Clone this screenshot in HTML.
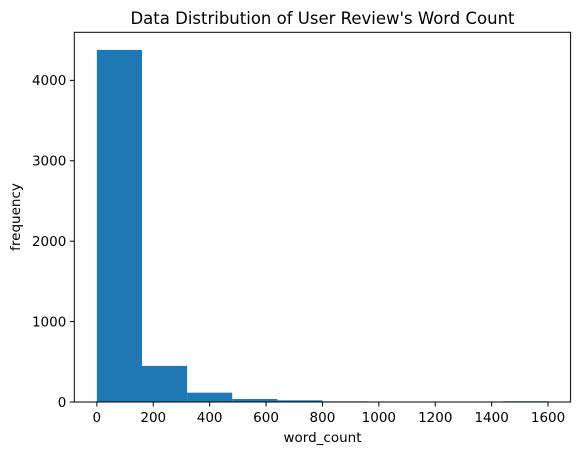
<!DOCTYPE html>
<html><head><meta charset="utf-8"><style>
body{margin:0;background:#fff;}
svg text{font-family:"DejaVu Sans","Liberation Sans",sans-serif;fill:#000;}
</style></head><body>
<svg id="chart" width="580" height="455" viewBox="0 0 580 455" xmlns="http://www.w3.org/2000/svg">
<text x="322.5" y="24" font-size="16.5" text-anchor="middle">Data Distribution of User Review's Word Count</text>
<g id="bars"></g>
<g id="axes"></g>
<text x="322.5" y="442" font-size="13.5" text-anchor="middle">word_count</text>
<text x="0" y="0" font-size="13.5" text-anchor="middle" transform="translate(20,217) rotate(-90)">frequency</text>
</svg>
<script>
const binEdges=[0,160,320,480,640,800,960,1120,1280,1440,1600];
const counts=[4379,449,116,37,21,8,0,0,0,9];
const xTicks=[0,200,400,600,800,1000,1200,1400,1600];
const yTicks=[0,1000,2000,3000,4000];
const L=74.3,R=570.6,T=32.3,B=402;
const xmin=-80,xmax=1680;
const ymax=Math.max(...counts)*1.05;
const sx=v=>L+(v-xmin)/(xmax-xmin)*(R-L);
const sy=v=>B-v/ymax*(B-T);
const NS="http://www.w3.org/2000/svg";
const bars=document.getElementById('bars'),axes=document.getElementById('axes');
counts.forEach((c,i)=>{
 const r=document.createElementNS(NS,'rect');
 
 
 const x0=sx(binEdges[i]),x1=sx(binEdges[i+1]);
 r.setAttribute('x',x0);r.setAttribute('width',x1-x0);
 r.setAttribute('y',sy(c));r.setAttribute('height',B-sy(c));
 r.setAttribute('fill','#1f77b4');
 bars.appendChild(r);
});
const f=document.createElementNS(NS,'rect');


f.setAttribute('x',L);f.setAttribute('y',T);f.setAttribute('width',R-L);f.setAttribute('height',B-T);
f.setAttribute('fill','none');f.setAttribute('stroke','#000');f.setAttribute('stroke-width','1');
axes.appendChild(f);
xTicks.forEach(v=>{
 const l=document.createElementNS(NS,'line');
 
 
 l.setAttribute('x1',sx(v));l.setAttribute('x2',sx(v));l.setAttribute('y1',B);l.setAttribute('y2',B+4.5);l.setAttribute('stroke','#000');
 axes.appendChild(l);
 const t=document.createElementNS(NS,'text');
 
 
 t.setAttribute('x',sx(v));t.setAttribute('y',B+20);t.setAttribute('font-size','13.5');t.setAttribute('text-anchor','middle');
 t.textContent=v;axes.appendChild(t);
});
yTicks.forEach(v=>{
 const l=document.createElementNS(NS,'line');
 
 
 l.setAttribute('x1',L-4.5);l.setAttribute('x2',L);l.setAttribute('y1',sy(v));l.setAttribute('y2',sy(v));l.setAttribute('stroke','#000');
 axes.appendChild(l);
 const t=document.createElementNS(NS,'text');
 
 
 t.setAttribute('x',L-8);t.setAttribute('y',sy(v)+4.8);t.setAttribute('font-size','13.5');t.setAttribute('text-anchor','end');
 t.textContent=v;axes.appendChild(t);
});
</script>
</body></html>
